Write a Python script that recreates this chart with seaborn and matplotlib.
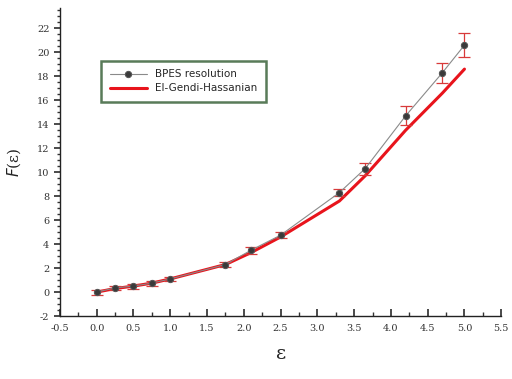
import numpy as np
import pandas as pd
import matplotlib
matplotlib.use("Agg")
import matplotlib.pyplot as plt
from matplotlib.ticker import MultipleLocator
import seaborn as sns

# ── data ────────────────────────────────────────────────────────────────────
eps = [0.0, 0.25, 0.5, 0.75, 1.0, 1.75, 2.1, 2.5, 3.3, 3.65, 4.2, 4.7, 5.0]
bpes = [0.0, 0.35, 0.5, 0.75, 1.1, 2.3, 3.5, 4.75, 8.3, 10.3, 14.7, 18.3, 20.6]
bpes_err = [0.2, 0.2, 0.2, 0.2, 0.2, 0.2, 0.3, 0.25, 0.3, 0.5, 0.8, 0.85, 1.0]
gendi = [0.0, 0.3, 0.5, 0.75, 1.1, 2.3, 3.3, 4.6, 7.6, 9.7, 13.5, 16.6, 18.6]

sns.set_theme(style="white")
plt.rcParams["font.family"] = ["DejaVu Serif"]

df = pd.DataFrame({"eps": eps, "bpes": bpes, "err": bpes_err, "gendi": gendi})

fig = plt.figure(figsize=(5.12, 3.79), dpi=100)
ax = fig.add_axes([0.117, 0.166, 0.862, 0.813])

sns.lineplot(data=df, x="eps", y="gendi", ax=ax, color="#e8141c", linewidth=2.2,
             label="El-Gendi-Hassanian", zorder=2)
ax.errorbar(df["eps"], df["bpes"], yerr=df["err"], fmt="none", ecolor="#d83a3a",
            elinewidth=0.9, capsize=4, capthick=0.9, zorder=3)
sns.lineplot(data=df, x="eps", y="bpes", ax=ax, color="#8a8a8a", linewidth=0.8,
             marker="o", markersize=4.5, markerfacecolor="#3a3a3a",
             markeredgecolor="#555555", label="BPES resolution", zorder=4)

ax.set_xlim(-0.5, 5.5)
ax.set_ylim(-2, 23.7)
ax.xaxis.set_major_locator(MultipleLocator(0.5))
ax.xaxis.set_minor_locator(MultipleLocator(0.25))
ax.yaxis.set_major_locator(MultipleLocator(2))
ax.yaxis.set_minor_locator(MultipleLocator(0.5))
ax.tick_params(axis="x", which="both", direction="in", bottom=True, labelsize=7,
               colors="#333333", pad=6)
ax.tick_params(axis="x", which="major", length=5)
ax.tick_params(axis="x", which="minor", length=3)
ax.tick_params(axis="y", which="both", direction="out", left=True, labelsize=7,
               colors="#333333")
ax.tick_params(axis="y", which="major", length=4)
ax.tick_params(axis="y", which="minor", length=2)
ax.xaxis.set_major_formatter(plt.FuncFormatter(lambda v, p: f"{v:.1f}"))
ax.yaxis.set_major_formatter(plt.FuncFormatter(lambda v, p: f"{v:.0f}"))

sns.despine(ax=ax)
for s in ("left", "bottom"):
    ax.spines[s].set_color("#222222")
    ax.spines[s].set_linewidth(1.0)

ax.set_xlabel("ε", fontsize=14, color="#222222", labelpad=8)
ax.set_ylabel(r"$F$(ε)", fontsize=11, color="#222222", labelpad=10)

handles, labels = ax.get_legend_handles_labels()
order = [labels.index("BPES resolution"), labels.index("El-Gendi-Hassanian")]
leg = ax.legend([handles[i] for i in order], [labels[i] for i in order],
                loc="upper left", bbox_to_anchor=(0.082, 0.845),
                frameon=True, fancybox=False, borderpad=0.8, handlelength=3.6,
                labelspacing=0.4, prop={"family": "DejaVu Sans", "size": 7.5})
leg.get_frame().set_edgecolor("#2f5a2f")
leg.get_frame().set_linewidth(1.8)

fig.savefig("out.png", dpi=100)
